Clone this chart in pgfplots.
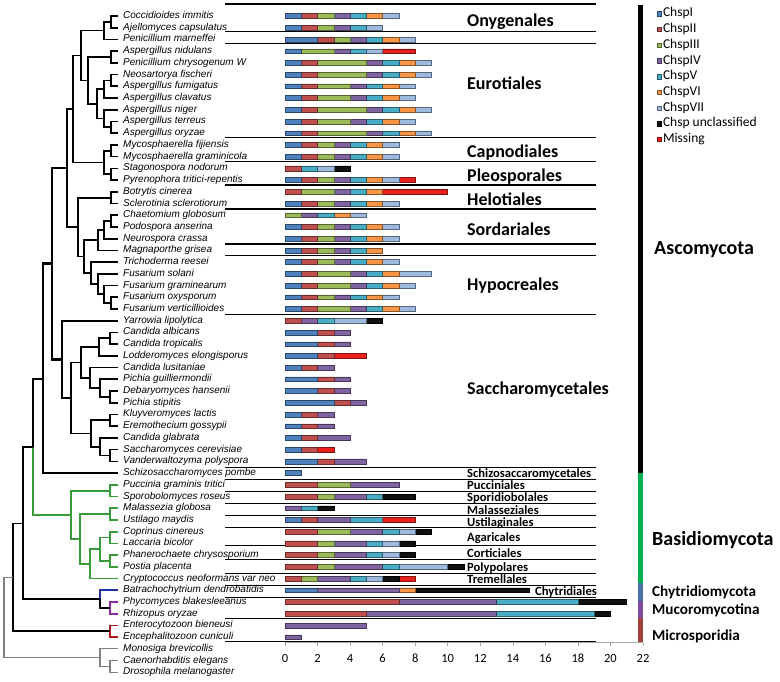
\documentclass[border=0pt]{standalone}
\usepackage{fontspec}
\setmainfont{Carlito}
\newfontfamily\arialf{Liberation Sans}
\usepackage{pgfplots}
\usepackage{pgfplotstable}
\pgfplotsset{compat=1.18}
\definecolor{cI}{HTML}{4F81BD}
\definecolor{cII}{HTML}{C0504D}
\definecolor{cIII}{HTML}{9BBB59}
\definecolor{cIV}{HTML}{8064A2}
\definecolor{cV}{HTML}{4BACC6}
\definecolor{cVI}{HTML}{F79646}
\definecolor{cVII}{HTML}{9DB9DD}
\definecolor{cU}{HTML}{111111}
\definecolor{cM}{HTML}{E8201E}
\definecolor{tgreen}{HTML}{3A9A3A}
\definecolor{tblue}{HTML}{2030A0}
\definecolor{tpurple}{HTML}{8A2BA0}
\definecolor{tred}{HTML}{B01818}
\definecolor{pgreen}{HTML}{00B050}
\definecolor{pblue}{HTML}{4A6FA5}
\definecolor{ppurple}{HTML}{7E4D9E}
\definecolor{pred}{HTML}{A0403C}
\tikzset{
  tr/.style={black, line width=1.7pt, mark=none, line join=miter},
  thick tree/.style={line width=2.6pt},
  trg/.style={tgreen},
  spn/.style={anchor=west, inner sep=0pt, text height=7pt, text depth=2pt,
     font=\arialf\itshape\fontsize{10}{12}\selectfont},
  ordn/.style={anchor=west, inner sep=0pt, text height=11.6pt, text depth=0pt,
     font=\fontsize{18}{20}\selectfont\bfseries},
  ordsn/.style={anchor=west, inner sep=0pt, text height=8.1pt, text depth=0pt,
     font=\fontsize{12.6}{14}\selectfont\bfseries},
  phyl/.style={anchor=west, inner sep=0pt, font=\fontsize{20}{22}\selectfont\bfseries},
  phys/.style={anchor=west, inner sep=0pt, font=\fontsize{15.2}{17}\selectfont\bfseries},
}
\pgfplotstableread{
idx I II III IV V VI VII U M
0 1 1 1 1 1 1 1 0 0
1 1 1 1 1 1 0 1 0 0
2 2 1 1 1 1 1 1 0 0
3 1 0 2 1 1 0 1 0 2
4 1 1 3 1 1 1 1 0 0
5 1 1 3 1 1 1 1 0 0
6 1 1 2 1 1 1 1 0 0
7 1 1 2 1 1 1 1 0 0
8 1 1 3 1 1 1 1 0 0
9 1 1 2 1 1 1 1 0 0
10 1 1 3 1 1 1 1 0 0
11 1 1 1 1 1 1 1 0 0
12 1 1 1 1 1 1 1 0 0
13 0 1 0 0 1 0 1 1 0
14 1 1 1 1 1 1 1 0 1
15 0 1 2 1 1 1 0 0 4
16 1 1 1 1 1 1 1 0 0
17 0 0 1 1 1 1 1 0 0
18 1 1 1 1 1 1 1 0 0
19 1 1 1 1 1 1 1 0 0
20 1 1 1 1 1 1 0 0 0
21 1 1 1 1 1 1 1 0 0
22 1 1 2 1 1 1 2 0 0
23 1 1 2 1 1 1 1 0 0
24 1 1 1 1 1 1 1 0 0
25 1 1 2 1 1 1 1 0 0
26 0 1 0 1 1 0 2 1 0
27 2 1 0 1 0 0 0 0 0
28 2 1 0 1 0 0 0 0 0
29 2 1 0 0 0 0 0 0 2
30 1 1 0 1 0 0 0 0 0
31 2 1 0 1 0 0 0 0 0
32 2 1 0 1 0 0 0 0 0
33 3 1 0 1 0 0 0 0 0
34 1 1 0 1 0 0 0 0 0
35 1 1 0 1 0 0 0 0 0
36 1 1 0 2 0 0 0 0 0
37 1 1 0 0 0 0 0 0 1
38 2 1 0 2 0 0 0 0 0
39 1 0 0 0 0 0 0 0 0
40 0 2 2 3 0 0 0 0 0
41 0 2 1 2 1 0 0 2 0
42 0 0 0 1 1 0 0 1 0
43 1 1 0 2 2 0 0 0 2
44 0 2 2 2 1 0 1 1 0
45 0 2 1 2 1 0 1 1 0
46 0 2 1 2 1 0 1 1 0
47 0 2 1 3 1 0 3 1 0
48 0 1 1 2 1 0 1 1 1
49 2 0 0 5 0 1 0 7 0
50 0 7 0 6 5 0 0 3 0
51 0 5 0 8 6 0 0 1 0
52 0 0 0 5 0 0 0 0 0
53 0 0 0 1 0 0 0 0 0
}\bardata
\newcommand{\elb}[6][]{\addplot[tr,#1] coordinates {(#2,#3) (#4,#3) (#4,#5) (#6,#5)};}
\newcommand{\spc}[2]{\node[spn] at (axis cs:123,#1) {#2};}
\newcommand{\sep}[1]{\addplot[black, line width=1.2pt] coordinates {(225,#1) (596,#1)};}
\newcommand{\ord}[3][467]{\node[ordn] at (axis cs:#1,#2) {#3};}
\newcommand{\ords}[3][467]{\node[ordsn] at (axis cs:#1,#2) {#3};}
\begin{document}
\begin{tikzpicture}
\path[use as bounding box] (0,0) rectangle (780pt,682pt);
\begin{axis}[at={(0pt,0pt)}, anchor=south west, scale only axis,
  width=780pt, height=682pt, xmin=0, xmax=780, ymin=-1.3652, ymax=56.826,
  y dir=reverse, hide axis, clip=false,
]
% separator lines
\sep{-1.024}\sep{1.340}\sep{2.329}\sep{10.350}\sep{12.432}\sep{14.420}
\sep{16.468}\sep{19.454}\sep{20.452}\sep{25.452}\sep{38.507}\sep{39.531}
\sep{40.589}\sep{41.578}\sep{42.637}\sep{43.626}\sep{45.196}\sep{46.357}
\sep{47.551}\sep{48.609}\sep{49.599}\sep{51.391}\sep{53.37}
% tree: Pezizomycotina
\elb{118}{0}{111}{1}{118}
\elb{111}{0.5}{104}{2}{118}
\elb{118}{3}{111}{4}{118}
\elb{118}{5}{111}{6}{118}
\elb{111}{5.5}{104}{7}{118}
\elb{118}{9}{111}{10}{118}
\elb{118}{8}{104}{9.5}{111}
\elb{104}{6.25}{97}{8.75}{104}
\elb{111}{3.5}{88}{7.5}{97}
\elb{104}{1.25}{81}{5.5}{88}
\elb{118}{11}{111}{12}{118}
\elb{118}{13}{111}{14}{118}
\elb{111}{11.5}{104}{13.5}{111}
\elb{81}{3.375}{73}{12.5}{104}
\elb{118}{15}{111}{16}{118}
\elb{118}{17}{111}{18}{118}
\elb{111}{17.5}{104}{19}{118}
\elb{104}{18.25}{98}{20}{118}
\elb{118}{24}{111}{25}{118}
\elb{118}{23}{104}{24.5}{111}
\elb{118}{22}{98}{23.75}{104}
\elb{118}{21}{91}{22.875}{98}
\elb{98}{19.125}{84}{21.94}{91}
\elb{111}{15.5}{78}{20.53}{84}
\elb[thick tree]{73}{7.94}{67}{18.02}{78}
% Saccharomycotina
\elb{118}{27}{110}{28}{118}
\elb{110}{27.5}{99}{29}{118}
\elb{118}{32}{110}{33}{118}
\elb{118}{31}{100}{32.5}{110}
\elb{118}{30}{90}{31.75}{100}
\elb{99}{28.25}{81}{30.875}{90}
\elb{118}{34}{110}{35}{118}
\elb{118}{37}{110}{38}{118}
\elb{118}{36}{100}{37.5}{110}
\elb{110}{34.5}{91}{36.75}{100}
\elb{81}{29.56}{71}{35.625}{91}
\elb{118}{26}{62}{32.59}{71}
\elb[thick tree]{67}{12.98}{52}{29.3}{62}
\elb[thick tree]{52}{21.14}{43}{39}{118}
% Basidiomycota
\addplot[tr] coordinates {(43,31) (33,31) (33,36.8)};
\addplot[tr,trg] coordinates {(33,36.8) (33,42.56) (71,42.56)};
\elb[trg]{118}{40}{110}{41}{118}
\elb[trg]{118}{42}{110}{43}{118}
\elb[trg]{118}{44}{110}{45}{118}
\elb[trg]{118}{46}{110}{47}{118}
\elb[trg]{110}{44.5}{100}{46.5}{110}
\elb[trg]{100}{45.5}{90}{48}{118}
\elb[trg]{110}{42.5}{80}{46.75}{90}
\elb[trg]{110}{40.5}{71}{44.6}{80}
% Chytrid / Mucoro
\elb[tpurple]{118}{50}{110}{51}{118}
\addplot[tr,tblue] coordinates {(118,49) (100,49) (100,49.75)};
\addplot[tr] coordinates {(100,49.75) (100,50.5) (110,50.5)};
\elb{33}{36.8}{23}{49.75}{100}
% Microsporidia
\elb[tred]{118}{52}{110}{53}{118}
\elb{23}{43.3}{13}{52.5}{110}
% outgroup
\elb[gray, line width=1.1pt]{118}{55}{110}{56}{118}
\elb[gray, line width=1.1pt]{118}{54}{100}{55.5}{110}
\elb[gray, line width=1.1pt]{13}{47.9}{4}{54.75}{100}
% species names
\spc{0}{Coccidioides immitis}
\spc{1}{Ajellomyces capsulatus}
\spc{2}{Penicillium marneffei}
\spc{3}{Aspergillus nidulans}
\spc{4}{Penicillium chrysogenum W}
\spc{5}{Neosartorya fischeri}
\spc{6}{Aspergillus fumigatus}
\spc{7}{Aspergillus clavatus}
\spc{8}{Aspergillus niger}
\spc{9}{Aspergillus terreus}
\spc{10}{Aspergillus oryzae}
\spc{11}{Mycosphaerella fijiensis}
\spc{12}{Mycosphaerella graminicola}
\spc{13}{Stagonospora nodorum}
\spc{14}{Pyrenophora tritici-repentis}
\spc{15}{Botrytis cinerea}
\spc{16}{Sclerotinia sclerotiorum}
\spc{17}{Chaetomium globosum}
\spc{18}{Podospora anserina}
\spc{19}{Neurospora crassa}
\spc{20}{Magnaporthe grisea}
\spc{21}{Trichoderma reesei}
\spc{22}{Fusarium solani}
\spc{23}{Fusarium graminearum}
\spc{24}{Fusarium oxysporum}
\spc{25}{Fusarium verticillioides}
\spc{26}{Yarrowia lipolytica}
\spc{27}{Candida albicans}
\spc{28}{Candida tropicalis}
\spc{29}{Lodderomyces elongisporus}
\spc{30}{Candida lusitaniae}
\spc{31}{Pichia guilliermondii}
\spc{32}{Debaryomyces hansenii}
\spc{33}{Pichia stipitis}
\spc{34}{Kluyveromyces lactis}
\spc{35}{Eremothecium gossypii}
\spc{36}{Candida glabrata}
\spc{37}{Saccharomyces cerevisiae}
\spc{38}{Vanderwaltozyma polyspora}
\spc{39}{Schizosaccharomyces pombe}
\spc{40}{Puccinia graminis tritici}
\spc{41}{Sporobolomyces roseus}
\spc{42}{Malassezia globosa}
\spc{43}{Ustilago maydis}
\spc{44}{Coprinus cinereus}
\spc{45}{Laccaria bicolor}
\spc{46}{Phanerochaete chrysosporium}
\spc{47}{Postia placenta}
\spc{48}{Cryptococcus neoformans var neo}
\spc{49}{Batrachochytrium dendrobatidis}
\spc{50}{Phycomyces blakesleeanus}
\spc{51}{Rhizopus oryzae}
\spc{52}{Enterocytozoon bieneusi}
\spc{53}{Encephalitozoon cuniculi}
\spc{54}{Monosiga brevicollis}
\spc{55}{Caenorhabditis elegans}
\spc{56}{Drosophila melanogaster}
% order labels
\ord{0.384}{Onygenales}
\ord{5.80}{Eurotiales}
\ord{11.58}{Capnodiales}
\ord{13.63}{Pleosporales}
\ord{15.64}{Helotiales}
\ord{18.2}{Sordariales}
\ord{22.95}{Hypocreales}
\ord{31.77}{Saccharomycetales}
\ords{39.02}{Schizosaccaromycetales}
\ords{40.08}{Pucciniales}
\ords{41.1}{Sporidiobolales}
\ords{42.22}{Malasseziales}
\ords{43.22}{Ustilaginales}
\ords{44.51}{Agaricales}
\ords{45.9}{Corticiales}
\ords{47.07}{Polypolares}
\ords{48.06}{Tremellales}
\ords[535]{49.12}{Chytridiales}
% phylum bar
\addplot[black, line width=5pt] coordinates {(640.5,-0.939) (640.5,38.99)};
\addplot[pgreen, line width=5pt] coordinates {(640.5,38.99) (640.5,48.38)};
\addplot[pblue, line width=5pt] coordinates {(640.5,48.38) (640.5,49.92)};
\addplot[ppurple, line width=5pt] coordinates {(640.5,49.92) (640.5,51.37)};
\addplot[pred, line width=5pt] coordinates {(640.5,51.37) (640.5,53.5)};
\node[phyl] at (axis cs:654,19.97) {Ascomycota};
\node[phyl] at (axis cs:652,44.71) {Basidiomycota};
\node[phys] at (axis cs:652,49.2) {Chytridiomycota};
\node[phys] at (axis cs:652,50.68) {Mucoromycotina};
\node[phys] at (axis cs:652,52.96) {Microsporidia};
\end{axis}
\begin{axis}[at={(285pt,39.5pt)}, anchor=south west, scale only axis,
  width=358pt, height=638.5pt, xmin=0, xmax=22, ymin=-1.024, ymax=53.456,
  y dir=reverse, xbar stacked, bar width=4.8pt,
  axis x line*=bottom, axis y line=none,
  x axis line style={draw=gray!70, line width=0.8pt, -},
  xtick={0,2,...,22}, ytick=\empty, tick align=outside, major tick length=3pt,
  xtick style={draw=gray!70, line width=0.6pt},
  /pgf/number format/assume math mode=true,
  xticklabel style={font=\fontsize{12.5}{14}\selectfont, yshift=-5pt},
  clip=false,
  legend cell align=left,
  legend image code/.code={\draw[#1, line width=0.4pt] (0pt,-2.2pt) rectangle (4.4pt,2.2pt);},
  legend style={at={(axis description cs:1.0383,0.99374)}, anchor=north west,
    draw=none, fill=none, inner sep=0pt, outer sep=0pt,
    font=\fontsize{13.5}{15}\selectfont, row sep=4.2pt,
    /tikz/every odd column/.append style={column sep=1.5pt},
    nodes={inner sep=0pt, text height=9pt, text depth=2.5pt, anchor=west}},
]
\addplot[fill=cI, draw=cI!55!black, line width=0.5pt] table[x=I, y=idx] {\bardata};
\addlegendentry{ChspI}
\addplot[fill=cII, draw=cII!55!black, line width=0.5pt] table[x=II, y=idx] {\bardata};
\addlegendentry{ChspII}
\addplot[fill=cIII, draw=cIII!55!black, line width=0.5pt] table[x=III, y=idx] {\bardata};
\addlegendentry{ChspIII}
\addplot[fill=cIV, draw=cIV!55!black, line width=0.5pt] table[x=IV, y=idx] {\bardata};
\addlegendentry{ChspIV}
\addplot[fill=cV, draw=cV!55!black, line width=0.5pt] table[x=V, y=idx] {\bardata};
\addlegendentry{ChspV}
\addplot[fill=cVI, draw=cVI!55!black, line width=0.5pt] table[x=VI, y=idx] {\bardata};
\addlegendentry{ChspVI}
\addplot[fill=cVII, draw=cVII!55!black, line width=0.5pt] table[x=VII, y=idx] {\bardata};
\addlegendentry{ChspVII}
\addplot[fill=cU, draw=black, line width=0.5pt] table[x=U, y=idx] {\bardata};
\addlegendentry{Chsp unclassified}
\addplot[fill=cM, draw=cM!55!black, line width=0.5pt] table[x=M, y=idx] {\bardata};
\addlegendentry{Missing}
\end{axis}
\end{tikzpicture}
\end{document}
